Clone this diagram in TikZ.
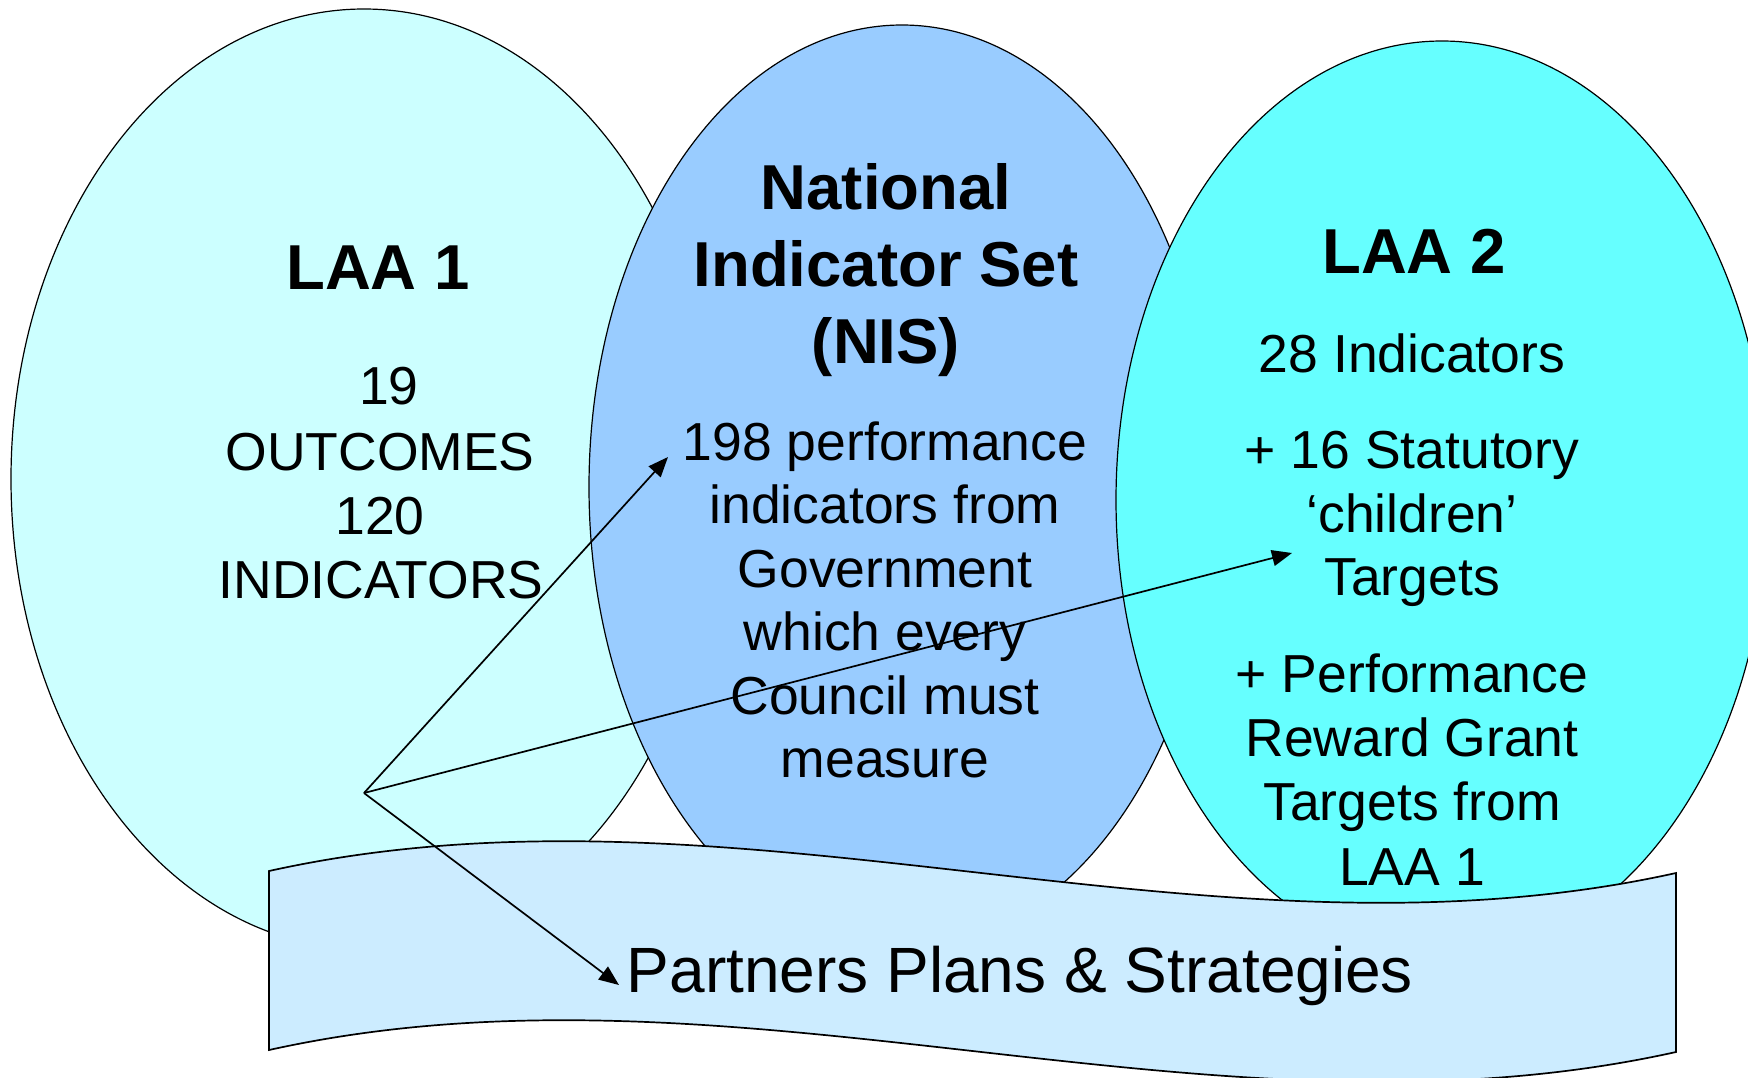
\documentclass[tikz,border=0pt]{standalone}
\usepackage{fontspec}
\setmainfont{Liberation Sans}
\usetikzlibrary{shapes.geometric,arrows.meta}
\definecolor{laaone}{HTML}{CCFFFF}
\definecolor{nisblue}{HTML}{99CCFF}
\definecolor{laatwo}{HTML}{66FFFF}
\definecolor{bannerfill}{HTML}{CCECFF}
\tikzset{
  oval/.style={ellipse, draw=black, line width=1.2pt, inner sep=0pt, outer sep=0pt},
  ttl/.style={anchor=base, inner sep=0pt, font=\fontsize{63.5}{76}\selectfont\bfseries},
  bodytxt/.style={anchor=base, inner sep=0pt, font=\fontsize{53.5}{64}\selectfont},
  bigtxt/.style={anchor=base, inner sep=0pt, font=\fontsize{64}{76}\selectfont},
  link/.style={line width=1.7pt, -{Triangle[length=20pt,width=16pt]}},
  bannerstyle/.style={draw=black, line width=1.7pt, fill=bannerfill, line join=miter}
}
\begin{document}
\begin{tikzpicture}[x=1pt,y=-1pt]
\useasboundingbox (0,0) rectangle (1748,1077);
\clip (0,0) rectangle (1748,1077);
% ellipses
\node[oval, fill=laaone, minimum width=706pt, minimum height=940pt] (laa1) at (364,479) {};
\node[oval, fill=nisblue, minimum width=626pt, minimum height=924pt] (nis) at (902,487) {};
\node[oval, fill=laatwo, minimum width=652pt, minimum height=918pt] (laa2) at (1442,500) {};
% LAA 1 text
\node[ttl] (t1) at (378,289) {LAA 1};
\node[bodytxt] (a1) at (389,404) {19};
\node[bodytxt] (a2) at (380,470) {OUTCOMES};
\node[bodytxt] (a3) at (380,534) {120};
\node[bodytxt] (a4) at (381,598) {INDICATORS};
% NIS text
\node[ttl] (n1) at (886,209) {National};
\node[ttl] (n2) at (886,286) {Indicator Set};
\node[ttl] (n3) at (886,363) {(NIS)};
\node[bodytxt] (b1) at (885,460) {198 performance};
\node[bodytxt] (b2) at (885,523.5) {indicators from};
\node[bodytxt] (b3) at (885,587) {Government};
\node[bodytxt] (b4) at (885,650.5) {which every};
\node[bodytxt] (b5) at (885,714) {Council must};
\node[bodytxt] (b6) at (885,777) {measure};
% LAA 2 text
\node[ttl] (t2) at (1414,273) {LAA 2};
\node[bodytxt] (c1) at (1412,372) {28 Indicators};
\node[bodytxt] (c2) at (1412,468) {+ 16 Statutory};
\node[bodytxt] (c3) at (1412,532) {‘children’};
\node[bodytxt] (c4) at (1412,595) {Targets};
\node[bodytxt] (c5) at (1412,692) {+ Performance};
\node[bodytxt] (c6) at (1412,756) {Reward Grant};
\node[bodytxt] (c7) at (1412,820) {Targets from};
\node[bodytxt] (c8) at (1412,885) {LAA 1};
% banner
\draw[bannerstyle] (269,871) .. controls (738,767) and (1207,977) .. (1676,873)
  -- (1676,1052) .. controls (1207,1156) and (738,946) .. (269,1050) -- cycle;
\node[bigtxt] (partners) at (1020,992) {Partners Plans \& Strategies};
% arrows
\coordinate (src) at (364,793);
\coordinate (tipnis) at (668,457);
\coordinate (tiplaa) at (1292,553);
\coordinate (tippart) at (619,985);
\draw[link] (src) -- (tipnis);
\draw[link] (src) -- (tiplaa);
\draw[link] (src) -- (tippart);
\end{tikzpicture}
\end{document}
